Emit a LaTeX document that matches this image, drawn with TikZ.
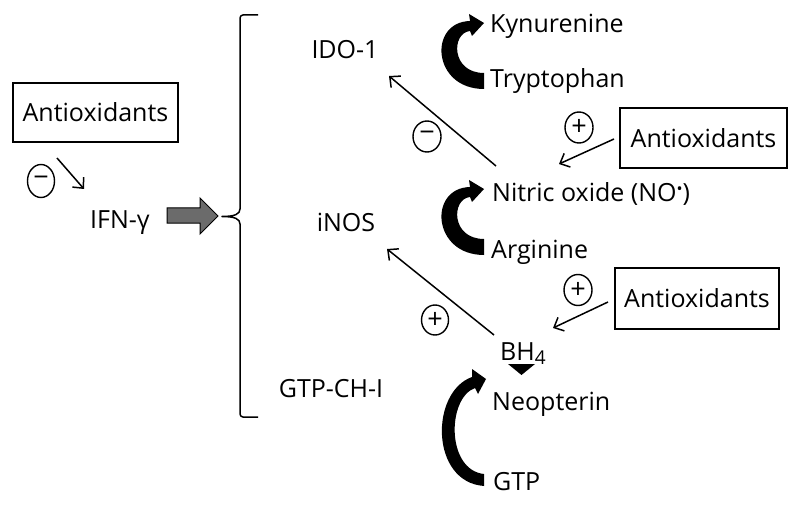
\documentclass[tikz,border=0pt]{standalone}
\usepackage{fontspec}
\setmainfont{Open Sans}
\usetikzlibrary{arrows.meta}
\begin{document}
\begin{tikzpicture}[x=1pt,y=-1pt,
  lbl/.style={inner sep=0pt, anchor=base west, font=\fontsize{25}{30}\selectfont},
  clbl/.style={inner sep=0pt, anchor=base, font=\fontsize{25}{30}\selectfont},
  box/.style={draw, line width=1.4pt, inner sep=0pt, font=\fontsize{25}{30}\selectfont},
  sgn/.style={inner sep=0pt, font=\fontsize{27}{27}\selectfont},
  ring/.style={line width=1.4pt},
  thinarr/.style={line width=1.5pt, -{Straight Barb[length=8pt,width=15pt,line width=1.5pt]}},
  fatarr/.style={fill=black},
  blockarr/.style={fill=black!58, draw=black, line width=1pt}]
\useasboundingbox (0,0) rectangle (800,505);

% boxes
\node[box, minimum width=165pt, minimum height=59pt] (ab1) at (95.5,112.5) {Antioxidants};
\node[box, minimum width=167pt, minimum height=60pt] (ab2) at (703.5,138) {Antioxidants};
\node[box, minimum width=164pt, minimum height=61pt] (ab3) at (697,298.5) {Antioxidants};

% labels
\node[lbl] (ifn) at (90,228) {IFN-γ};
\node[clbl] (ido) at (345,59) {IDO-1};
\node[clbl] (inos) at (346,231) {iNOS};
\node[clbl] (gtpch) at (331,397) {GTP-CH-I};
\node[lbl] (kyn) at (490,33) {Kynurenine};
\node[lbl] (trp) at (490,88) {Tryptophan};
\node[lbl] (no) at (492,202) {Nitric oxide (NO\raisebox{7pt}{\fontsize{16}{16}\selectfont •})};
\node[lbl] (arg) at (491,258) {Arginine};
\node[lbl] (bh4) at (500,360) {BH\raisebox{-4.5pt}{\fontsize{19}{19}\selectfont 4}};
\node[lbl] (neo) at (492,410) {Neopterin};
\node[lbl] (gtp) at (493,490) {GTP};

% sign circles
\node[sgn] (m1) at (41,181) {−};
\draw[ring] (m1.center) ellipse (13.5 and 16.5);
\node[sgn] (m2) at (427,136.5) {−};
\draw[ring] (m2.center) ellipse (14 and 15.5);
\node[sgn] (p1) at (435,320) {+};
\draw[ring] (p1.center) ellipse (13.5 and 15);
\node[sgn] (p2) at (579,127.5) {+};
\draw[ring] (p2.center) ellipse (14 and 15.5);
\node[sgn] (p3) at (578,290) {+};
\draw[ring] (p3.center) ellipse (14 and 15.5);

% connector end points
\coordinate (a1s) at (57,158);   \coordinate (a1e) at (84,189);
\coordinate (idos) at (496,166); \coordinate (idoe) at (389,76);
\coordinate (inoss) at (494,335); \coordinate (inose) at (387,249);
\coordinate (r1s) at (614,139);  \coordinate (r1e) at (559,164);
\coordinate (r2s) at (608,302);  \coordinate (r2e) at (553,328);

\draw[thinarr] (a1s) -- (a1e);
\draw[thinarr] (idos) -- (idoe);
\draw[thinarr] (inoss) -- (inose);
\draw[thinarr] (r1s) -- (r1e);
\draw[thinarr] (r2s) -- (r2e);

% gray block arrow
\draw[blockarr] (167,208) -- (200,208) -- (200,198) -- (218,216) -- (200,234) -- (200,223) -- (167,223) -- cycle;

% brace
\draw[line width=1.5pt, line join=round] (258,15) -- (243,15) to[out=180,in=90] (240,18) -- (240,209)
  .. controls (240,214) and (235,216.5) .. (222,216.5)
  .. controls (235,216.5) and (240,219) .. (240,224) -- (240,414) to[out=-90,in=180] (243,417) -- (258,417);

% fat curved arrows
\fill[fatarr] (484,89) .. controls (432,89) and (428,22) .. (470,21) -- (469,14) -- (484,23) -- (472,36) -- (470,31)
  .. controls (451,33) and (451,73) .. (484,73) -- cycle;
\begin{scope}[yshift=-166pt]
\fill[fatarr] (484,89) .. controls (432,89) and (428,22) .. (470,21) -- (469,14) -- (484,23) -- (472,36) -- (470,31)
  .. controls (451,33) and (451,73) .. (484,73) -- cycle;
\end{scope}
\fill[fatarr] (484,486) .. controls (430,482) and (430,392) .. (472,377) -- (472,369) -- (486,379) -- (478,394) -- (475,388)
  .. controls (447,398) and (446,470) .. (484,474) -- cycle;

% small triangle below BH4
\fill (508,364) -- (535,364) -- (521.5,375) -- cycle;
\end{tikzpicture}
\end{document}
